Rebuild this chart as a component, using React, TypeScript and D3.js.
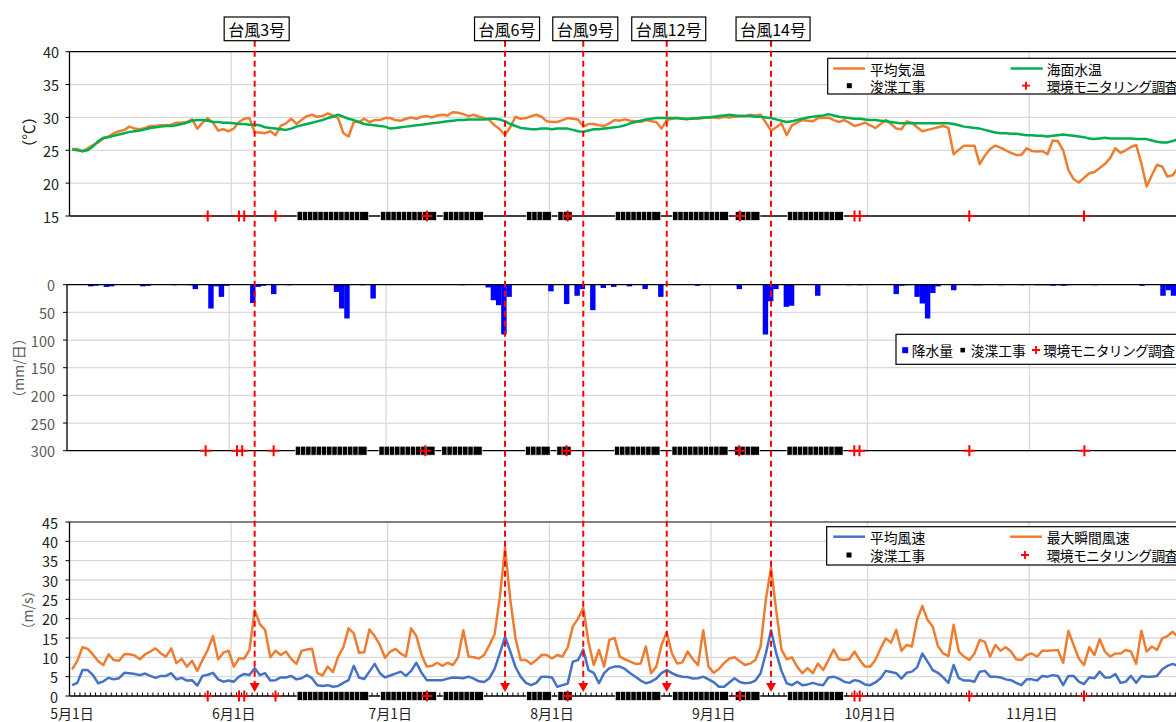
import React from "react";
import * as d3 from "d3";

// ---------------- DATA ----------------
const YEAR = 2015;
const days: Date[] = d3.timeDay.range(new Date(YEAR, 4, 1), new Date(YEAR, 11, 1)); // 5/1 .. 11/30

// 平均気温 (℃)
const airTemp = [
  25.2, 25.2, 24.8, 25.3, 25.8, 26.2, 26.8, 27.1, 27.6, 27.9,
  28.1, 28.6, 28.3, 28.2, 28.4, 28.7, 28.7, 28.8, 28.8, 28.9,
  29.2, 29.2, 29.3, 29.7, 28.3, 29.2, 29.9, 29.2, 28.0, 28.2,
  27.9, 28.3, 29.3, 29.8, 29.9, 27.7, 27.7, 27.6, 27.9, 27.3,
  28.7, 29.1, 29.8, 29.0, 29.6, 30.2, 30.4, 30.1, 30.2, 30.6,
  30.3, 29.9, 27.6, 27.1, 29.3, 29.3, 29.8, 29.3, 29.6, 29.6,
  29.9, 29.9, 29.6, 29.5, 29.8, 30.0, 29.8, 30.1, 30.2, 30.0,
  30.3, 30.4, 30.3, 30.8, 30.7, 30.5, 30.2, 30.4, 30.1, 29.9,
  29.6, 28.8, 28.2, 27.3, 28.5, 30.1, 29.8, 29.9, 30.2, 30.4,
  30.1, 29.4, 29.3, 29.3, 29.6, 29.9, 29.8, 29.7, 28.6, 29.0,
  29.0, 28.8, 28.7, 29.1, 29.6, 29.5, 29.7, 29.5, 29.4, 29.3,
  29.6, 29.4, 29.3, 28.3, 29.6, 29.8, 29.9, 29.8, 29.7, 29.9,
  29.8, 29.9, 30.0, 30.0, 29.9, 30.1, 30.0, 30.1, 30.2, 30.2,
  30.4, 30.3, 30.4, 29.2, 28.0, 28.5, 29.1, 27.3, 28.8, 29.2,
  29.6, 29.5, 29.4, 29.9, 29.9, 30.0, 29.6, 29.3, 29.6, 29.2,
  28.7, 28.9, 29.2, 28.8, 28.4, 29.0, 29.6, 29.0, 28.3, 28.2,
  29.4, 29.2, 28.5, 27.9, 28.1, 28.3, 28.5, 28.7, 28.4, 24.4,
  25.1, 25.7, 25.7, 25.7, 22.9, 24.2, 25.2, 25.7, 25.4, 25.0,
  24.6, 24.3, 24.3, 25.3, 24.9, 24.8, 24.9, 24.4, 26.5, 26.4,
  25.0, 22.0, 20.6, 20.1, 20.8, 21.5, 21.7, 22.3, 22.9, 23.8,
  25.3, 24.6, 25.0, 25.5, 25.8, 23.0, 19.5, 21.2, 22.8, 22.5,
  21.0, 21.2, 22.3, 23.0,
];

// 海面水温 (℃)
const seaTemp = [
  25.1, 25.0, 24.9, 25.0, 25.6, 26.4, 26.9, 27.0, 27.2, 27.4,
  27.6, 27.8, 27.9, 28.0, 28.2, 28.4, 28.5, 28.6, 28.7, 28.7,
  28.8, 29.0, 29.2, 29.5, 29.6, 29.6, 29.5, 29.3, 29.3, 29.2,
  29.2, 29.1, 29.0, 29.0, 28.9, 28.9, 28.8, 28.5, 28.4, 28.3,
  28.2, 28.1, 28.3, 28.6, 28.8, 29.0, 29.2, 29.4, 29.6, 29.9,
  30.1, 30.4, 30.1, 29.8, 29.6, 29.3, 29.0, 28.9, 28.8, 28.7,
  28.6, 28.3, 28.4, 28.5, 28.6, 28.7, 28.8, 28.9, 29.0, 29.1,
  29.2, 29.3, 29.4, 29.5, 29.6, 29.6, 29.7, 29.7, 29.7, 29.7,
  29.8, 29.8, 29.7, 29.4, 29.0, 28.7, 28.4, 28.3, 28.2, 28.2,
  28.3, 28.3, 28.2, 28.3, 28.3, 28.3, 28.1, 27.9, 27.8, 28.0,
  28.2, 28.2, 28.3, 28.4, 28.5, 28.6, 28.8, 29.1, 29.3, 29.5,
  29.7, 29.8, 29.9, 29.9, 29.9, 29.9, 29.9, 29.8, 29.8, 29.8,
  29.9, 30.0, 30.0, 30.1, 30.2, 30.3, 30.4, 30.3, 30.2, 30.2,
  30.2, 30.1, 30.1, 30.0, 29.9, 29.7, 29.5, 29.3, 29.4, 29.6,
  29.8, 30.0, 30.1, 30.2, 30.3, 30.5, 30.3, 30.1, 30.0, 29.9,
  29.8, 29.8, 29.7, 29.6, 29.6, 29.5, 29.4, 29.3, 29.2, 29.1,
  29.1, 29.1, 29.1, 29.1, 29.1, 29.1, 29.1, 29.1, 29.1, 29.0,
  28.8, 28.6, 28.5, 28.4, 28.3, 28.1, 27.9, 27.7, 27.6, 27.6,
  27.5, 27.5, 27.4, 27.3, 27.3, 27.2, 27.2, 27.1, 27.2, 27.3,
  27.4, 27.3, 27.2, 27.1, 27.0, 26.8, 26.7, 26.8, 26.9, 26.8,
  26.8, 26.8, 26.8, 26.8, 26.7, 26.7, 26.7, 26.5, 26.3, 26.2,
  26.2, 26.4, 26.7, 26.7,
];

// 降水量 (mm/日)
const rainfall = [
  0, 0, 0, 0, 3, 2, 0, 4, 3, 0,
  0, 0, 0, 0, 3, 2, 0, 0, 0, 0,
  1, 0, 0, 1, 8, 0, 0, 43, 3, 22,
  2, 0, 0, 0, 0, 33, 4, 2, 0, 17,
  0, 0, 1, 0, 0, 0, 0, 0, 0, 0,
  0, 13, 43, 61, 0, 0, 1, 0, 25, 0,
  0, 0, 0, 0, 0, 0, 0, 0, 0, 0,
  0, 0, 0, 0, 0, 1, 0, 0, 0, 0,
  5, 28, 37, 90, 22, 0, 0, 0, 0, 0,
  0, 0, 12, 0, 0, 35, 0, 20, 8, 0,
  46, 0, 6, 0, 4, 0, 0, 3, 0, 0,
  8, 0, 0, 22, 0, 0, 0, 0, 0, 0,
  2, 0, 0, 0, 0, 0, 0, 0, 8, 0,
  0, 0, 0, 90, 30, 8, 0, 40, 38, 0,
  0, 0, 0, 20, 0, 0, 0, 0, 0, 1,
  0, 1, 0, 0, 0, 0, 0, 0, 17, 2,
  1, 0, 22, 34, 61, 15, 3, 0, 0, 10,
  0, 0, 0, 1, 1, 0, 0, 0, 1, 0,
  0, 0, 1, 0, 0, 1, 1, 1, 2, 1,
  2, 1, 0, 0, 0, 0, 1, 0, 0, 0,
  0, 0, 0, 0, 0, 2, 0, 0, 0, 20,
  10, 20, 0, 0,
];

// 平均風速 (m/s)
const windMean = [
  2.8, 3.4, 6.7, 6.7, 5.4, 3.3, 3.8, 4.7, 4.3, 4.6,
  6.0, 5.9, 5.7, 5.4, 5.8, 5.2, 4.7, 5.2, 5.2, 5.9,
  4.3, 4.7, 4.0, 4.1, 2.7, 5.2, 5.5, 6.0, 4.3, 3.7,
  4.0, 3.7, 5.0, 5.7, 5.4, 7.2, 5.4, 5.9, 4.0, 4.1,
  4.8, 4.8, 5.2, 4.3, 4.6, 5.4, 4.6, 2.8, 2.6, 2.8,
  2.4, 2.6, 3.4, 4.1, 7.8, 4.8, 4.4, 6.3, 8.3, 5.9,
  4.8, 5.3, 5.8, 6.3, 5.2, 6.5, 8.6, 6.0, 4.1, 4.1,
  4.1, 4.1, 4.5, 4.8, 4.7, 4.6, 5.0, 4.5, 3.8, 3.6,
  4.6, 7.0, 11.0, 15.3, 11.5, 7.5, 5.0, 3.4, 2.8, 3.4,
  5.0, 5.0, 4.8, 2.4, 2.8, 3.2, 8.9, 9.3, 12.0, 6.7,
  6.0, 3.3, 5.9, 7.2, 7.6, 7.6, 7.0, 5.9, 5.0, 4.0,
  3.3, 3.7, 4.5, 5.9, 6.7, 5.9, 5.3, 5.0, 4.9, 4.5,
  4.6, 5.0, 4.3, 3.6, 2.4, 2.4, 3.5, 4.6, 3.6, 3.3,
  3.4, 4.0, 5.9, 11.0, 17.0, 11.0, 6.5, 3.3, 2.8, 3.7,
  2.8, 3.0, 3.4, 3.0, 2.8, 4.8, 5.0, 4.5, 3.7, 3.4,
  4.1, 3.8, 3.0, 2.8, 3.5, 4.6, 6.5, 6.2, 5.9, 4.5,
  6.0, 6.3, 7.4, 11.0, 8.9, 6.7, 6.0, 4.8, 3.4, 8.0,
  4.6, 4.0, 4.0, 3.7, 6.3, 6.5, 5.0, 5.0, 4.8, 4.3,
  4.1, 3.4, 2.8, 4.3, 4.3, 4.0, 5.2, 5.0, 5.4, 5.2,
  2.8, 5.2, 5.2, 3.7, 3.1, 4.8, 4.6, 6.3, 4.8, 4.8,
  5.7, 3.4, 3.7, 5.2, 3.4, 5.2, 5.0, 5.0, 5.2, 6.9,
  7.8, 8.3, 7.8, 8.0,
];

// 最大瞬間風速 (m/s)
const windGust = [
  6.9, 9.1, 12.6, 12.2, 10.7, 9.0, 8.0, 10.8, 9.3, 9.1,
  10.8, 10.8, 10.5, 9.5, 10.8, 11.5, 12.3, 11.0, 10.2, 12.3,
  8.5, 9.6, 7.6, 9.1, 6.5, 9.3, 11.9, 15.5, 9.5, 11.2,
  11.7, 7.6, 9.7, 9.7, 11.9, 22.2, 18.6, 17.1, 10.0, 11.7,
  10.6, 11.5, 9.6, 8.3, 11.7, 12.0, 12.2, 6.0, 5.3, 7.6,
  6.2, 10.2, 12.6, 17.5, 16.2, 11.2, 11.3, 17.2, 15.5, 13.2,
  9.9, 11.5, 12.2, 11.0, 10.2, 17.5, 15.5, 10.6, 7.6, 7.8,
  8.6, 7.8, 8.6, 8.0, 10.0, 17.0, 10.2, 10.0, 9.7, 10.6,
  13.2, 16.0, 25.5, 38.3, 25.0, 15.0, 9.3, 9.3, 8.3, 9.3,
  10.6, 10.6, 9.7, 10.6, 10.2, 12.5, 18.0, 20.0, 22.8, 14.0,
  8.0, 11.9, 7.6, 14.5, 15.0, 10.2, 9.5, 8.9, 8.3, 8.4,
  12.8, 5.9, 7.6, 13.2, 16.5, 11.0, 8.4, 8.7, 11.5, 9.5,
  8.0, 17.0, 7.6, 6.0, 7.0, 8.5, 9.7, 10.0, 9.0, 8.0,
  8.4, 9.3, 12.8, 25.0, 33.2, 22.0, 12.0, 9.5, 10.0, 7.6,
  5.9, 7.2, 5.9, 8.4, 6.7, 9.3, 12.0, 9.5, 9.3, 9.5,
  11.5, 9.3, 7.6, 7.6, 9.3, 12.3, 14.9, 13.8, 17.1, 11.7,
  13.2, 12.8, 19.7, 23.3, 19.7, 17.9, 12.9, 11.0, 10.3, 18.4,
  11.5, 10.2, 9.3, 11.0, 14.5, 14.0, 10.2, 13.2, 11.7, 12.6,
  11.5, 9.5, 9.3, 10.6, 11.0, 10.2, 11.7, 11.7, 11.8, 11.9,
  8.6, 16.8, 13.2, 9.7, 8.0, 12.6, 10.6, 14.7, 11.5, 10.2,
  11.0, 11.0, 11.9, 11.5, 8.3, 16.9, 11.5, 12.8, 11.9, 14.9,
  15.5, 16.6, 15.3, 15.8,
];

// 浚渫工事 days
const dredgingDates = [
  "6/14", "6/15", "6/16", "6/17", "6/18", "6/19", "6/20", "6/21", "6/22", "6/23", "6/24", "6/25", "6/26",
  "6/30", "7/1", "7/2", "7/3", "7/4", "7/5", "7/6", "7/7", "7/8", "7/9",
  "7/12", "7/13", "7/14", "7/15", "7/16", "7/17", "7/18",
  "7/28", "7/29", "7/30", "7/31",
  "8/3", "8/4",
  "8/14", "8/15", "8/16", "8/17", "8/18", "8/19", "8/20", "8/21",
  "8/25", "8/26", "8/27", "8/28", "8/29", "8/30", "8/31", "9/1", "9/2", "9/3",
  "9/6", "9/7", "9/8", "9/9",
  "9/16", "9/17", "9/18", "9/19", "9/20", "9/21", "9/22", "9/23", "9/24", "9/25",
];

// 環境モニタリング調査 days
const monitoringDates = ["5/27", "6/2", "6/3", "6/9", "7/8", "8/4", "9/6", "9/28", "9/29", "10/20", "11/11"];

// 台風
const typhoonLabels = ["台風3号", "台風6号", "台風9号", "台風12号", "台風14号"];
const typhoonDates = ["6/5", "7/23", "8/7", "8/23", "9/12"];

const tempTicks = [15, 20, 25, 30, 35, 40];
const rainTicks = [0, 50, 100, 150, 200, 250, 300];
const windTicks = [0, 5, 10, 15, 20, 25, 30, 35, 40, 45];

// ---------------- STYLE ----------------
const W = 1176;
const H = 722;
const FONT = "'Noto Sans CJK JP','Noto Sans',sans-serif";
const ORANGE = "#ED7D31";
const GREEN = "#00B050";
const BLUE = "#4472C4";
const RAIN = "#0000FF";
const GRID = "#d9d9d9";
const RED = "#FF0000";

const fmt = d3.timeFormat("%-m/%-d");

export default function App() {
  const keys = days.map((d) => fmt(d));
  const N = keys.length;

  const xT = d3.scaleBand<string>().domain(keys).range([69.5, 69.5 + N * 5.216]).padding(0);
  const xM = d3.scaleBand<string>().domain(keys).range([67, 67 + N * 5.231]).padding(0);
  const cT = (k: string) => (xT(k) ?? 0) + xT.bandwidth() / 2;
  const cM = (k: string) => (xM(k) ?? 0) + xM.bandwidth() / 2;

  const yT = d3.scaleLinear().domain([15, 40]).range([216, 51.7]);
  const yM = d3.scaleLinear().domain([0, 300]).range([284.7, 450.7]);
  const yB = d3.scaleLinear().domain([0, 45]).range([696, 522]);

  const monthKeys = keys.filter((_, i) => days[i].getDate() === 1);
  const monthLabel = d3.timeFormat("%-m月%-d日");

  const lineT = (vals: number[], y: d3.ScaleLinear<number, number>) =>
    d3.line<number>().x((_, i) => cT(keys[i])).y((v) => y(v))(vals) ?? "";

  const cross = (x: number, y: number, s: number) =>
    `M${x - s / 2},${y}H${x + s / 2}M${x},${y - s / 2}V${y + s / 2}`;

  const markers = (cx: (k: string) => number, y: number) => (
    <g>
      {dredgingDates.map((k) => (
        <rect key={"d" + k} x={cx(k) - 4.5} y={y - 4.5} width={9} height={9} fill="#000" stroke="#fff" strokeWidth={0.7} />
      ))}
      {monitoringDates.map((k) => (
        <path key={"m" + k} d={cross(cx(k), y, 11)} stroke={RED} strokeWidth={2} fill="none" />
      ))}
    </g>
  );

  const vGrid = (x: d3.ScaleBand<string>, y0: number, y1: number) =>
    monthKeys.slice(1).map((k) => (
      <line key={"vg" + k} x1={x(k)} x2={x(k)} y1={y0} y2={y1} stroke={GRID} strokeWidth={1.3} />
    ));

  const hGrid = (y: d3.ScaleLinear<number, number>, ticks: number[], x0: number) =>
    ticks.map((t) => <line key={"hg" + t} x1={x0} x2={W} y1={y(t)} y2={y(t)} stroke={GRID} strokeWidth={1.3} />);

  const yTicks = (
    y: d3.ScaleLinear<number, number>,
    ticks: number[],
    axisX: number,
    labelX: number,
    color: string
  ) =>
    ticks.map((t) => (
      <g key={"yt" + t}>
        <line x1={axisX - 4} x2={axisX} y1={y(t)} y2={y(t)} stroke="#000" strokeWidth={1} />
        <text x={labelX} y={y(t)} textAnchor="end" dominantBaseline="central" fontSize={14.5} fill={color} fontFamily={FONT}>
          {t}
        </text>
      </g>
    ));

  const txt = (x: number, y: number, s: string, extra: any = {}) => (
    <text x={x} y={y} dominantBaseline="central" fontSize={13.8} fill="#000" fontFamily={FONT} {...extra}>
      {s}
    </text>
  );

  const typhoonX = typhoonDates.map((k) => cT(k));

  return (
    <svg
      width={W}
      height={H}
      viewBox={`0 0 ${W} ${H}`}
      style={{ position: "absolute", left: 0, top: 0, background: "#fff" }}
      fontFamily={FONT}
    >
      <rect x={0} y={0} width={W} height={H} fill="#fff" />

      {/* ================= TOP: temperature ================= */}
      <g>
        {hGrid(yT, [20, 25, 30, 35], 69.5)}
        {vGrid(xT, yT(40), yT(15))}
        <line x1={69.5} x2={W} y1={yT(40)} y2={yT(40)} stroke="#000" strokeWidth={1.3} />
        <line x1={69.5} x2={W} y1={yT(15)} y2={yT(15)} stroke="#000" strokeWidth={1.3} />
        <line x1={69.5} x2={69.5} y1={yT(40)} y2={yT(15)} stroke="#000" strokeWidth={1.3} />
        {yTicks(yT, tempTicks, 69.5, 59, "#222")}
        <text transform="translate(28,132) rotate(-90)" textAnchor="middle" dominantBaseline="central" fontSize={15.5} fill="#222" fontFamily={FONT}>
          （℃）
        </text>
        <path d={lineT(airTemp, yT)} fill="none" stroke={ORANGE} strokeWidth={2.5} strokeLinejoin="round" />
        <path d={lineT(seaTemp, yT)} fill="none" stroke={GREEN} strokeWidth={2.5} strokeLinejoin="round" />
        {markers(cT, yT(15))}

        <g>
          <rect x={827.7} y={58.3} width={420} height={35.7} fill="#fff" stroke="#000" strokeWidth={1.2} />
          <line x1={833.3} x2={865} y1={68.5} y2={68.5} stroke={ORANGE} strokeWidth={2.5} />
          {txt(870, 68.5, "平均気温")}
          <line x1={1010.7} x2={1042.7} y1={68.5} y2={68.5} stroke={GREEN} strokeWidth={2.5} />
          {txt(1046.7, 68.5, "海面水温")}
          <rect x={846.8} y={83.2} width={5} height={5} fill="#000" />
          {txt(870, 85.7, "浚渫工事")}
          <path d={cross(1026, 85.7, 8)} stroke={RED} strokeWidth={1.8} />
          {txt(1046.7, 85.7, "環境モニタリング調査", { letterSpacing: "-0.7px" })}
        </g>
      </g>

      {/* ================= MIDDLE: rainfall ================= */}
      <g>
        {hGrid(yM, [50, 100, 150, 200, 250], 67)}
        {vGrid(xM, yM(0), yM(300))}
        {rainfall.map((v, i) =>
          v > 0 ? (
            <rect key={"r" + i} x={xM(keys[i])} y={yM(0)} width={xM.bandwidth() + 0.2} height={yM(v) - yM(0)} fill={RAIN} />
          ) : null
        )}
        <line x1={67} x2={W} y1={yM(0)} y2={yM(0)} stroke="#000" strokeWidth={1.3} />
        <line x1={67} x2={W} y1={yM(300)} y2={yM(300)} stroke="#000" strokeWidth={1.3} />
        <line x1={67} x2={67} y1={yM(0)} y2={yM(300)} stroke="#000" strokeWidth={1.3} />
        {yTicks(yM, rainTicks, 67, 55, "#595959")}
        <text transform="translate(18,368) rotate(-90)" textAnchor="middle" dominantBaseline="central" fontSize={14} fill="#595959" fontFamily={FONT}>
          （mm/日）
        </text>
        {markers(cM, yM(300))}

        <g>
          <rect x={896} y={334.3} width={320} height={30} fill="#fff" stroke="#000" strokeWidth={1.2} />
          <rect x={902.2} y={347.2} width={6} height={6} fill={RAIN} />
          {txt(911.7, 350, "降水量")}
          <rect x={960.4} y={347.8} width={4.6} height={4.6} fill="#000" />
          {txt(970.7, 350, "浚渫工事")}
          <path d={cross(1036, 350, 8)} stroke={RED} strokeWidth={1.8} />
          {txt(1043.3, 350, "環境モニタリング調査", { letterSpacing: "-0.7px" })}
        </g>
      </g>

      {/* ================= BOTTOM: wind ================= */}
      <g>
        {hGrid(yB, [5, 10, 15, 20, 25, 30, 35, 40], 69.5)}
        {vGrid(xT, yB(45), yB(0))}
        <line x1={69.5} x2={W} y1={yB(45)} y2={yB(45)} stroke="#595959" strokeWidth={1.6} />
        <path d={lineT(windMean, yB)} fill="none" stroke={BLUE} strokeWidth={2.5} strokeLinejoin="round" />
        <path d={lineT(windGust, yB)} fill="none" stroke={ORANGE} strokeWidth={2.5} strokeLinejoin="round" />
        {keys.map((k) => (
          <line key={"mt" + k} x1={xT(k)} x2={xT(k)} y1={yB(0)} y2={yB(0) - 3.5} stroke="#000" strokeWidth={1} />
        ))}
        <line x1={69.5} x2={W} y1={yB(0)} y2={yB(0)} stroke="#000" strokeWidth={1.5} />
        <line x1={69.5} x2={69.5} y1={yB(45)} y2={yB(0)} stroke="#000" strokeWidth={1.3} />
        {yTicks(yB, windTicks, 69.5, 58, "#222")}
        <text transform="translate(27,610) rotate(-90)" textAnchor="middle" dominantBaseline="central" fontSize={14} fill="#595959" fontFamily={FONT}>
          （m/s）
        </text>
        {markers(cT, yB(0))}
        {monthKeys.map((k) => (
          <text key={"xl" + k} x={cT(k)} y={712.5} textAnchor="middle" dominantBaseline="central" fontSize={14} fill="#222" fontFamily={FONT}>
            {monthLabel(days[keys.indexOf(k)])}
          </text>
        ))}

        <g>
          <rect x={826.7} y={526.7} width={420} height={38.3} fill="#fff" stroke="#000" strokeWidth={1.2} />
          <line x1={833.3} x2={865} y1={536.7} y2={536.7} stroke={BLUE} strokeWidth={2.5} />
          {txt(870, 536.7, "平均風速")}
          <line x1={1010} x2={1042} y1={536.7} y2={536.7} stroke={ORANGE} strokeWidth={2.5} />
          {txt(1046.7, 536.7, "最大瞬間風速")}
          <rect x={846.5} y={552.5} width={5} height={5} fill="#000" />
          {txt(870, 555, "浚渫工事")}
          <path d={cross(1025, 555, 8)} stroke={RED} strokeWidth={1.8} />
          {txt(1046.7, 555, "環境モニタリング調査", { letterSpacing: "-0.7px" })}
        </g>
      </g>

      {/* ================= Typhoon markers ================= */}
      {typhoonLabels.map((label, i) => {
        const x = typhoonX[i];
        const digits = label.length - 3;
        const w = 48 + digits * 9 + 8;
        return (
          <g key={label}>
            <line x1={x} x2={x} y1={40.7} y2={683} stroke={RED} strokeWidth={2} strokeDasharray="6 4" />
            <path d={`M${x - 5},${683}L${x + 5},${683}L${x},${692}Z`} fill={RED} />
            <rect x={x - w / 2 + 2} y={17} width={w} height={23.7} fill="#fff" stroke="#000" strokeWidth={1.2} />
            <text x={x + 2} y={29} textAnchor="middle" dominantBaseline="central" fontSize={16} fill="#000" fontFamily={FONT}>
              {label}
            </text>
          </g>
        );
      })}
    </svg>
  );
}
